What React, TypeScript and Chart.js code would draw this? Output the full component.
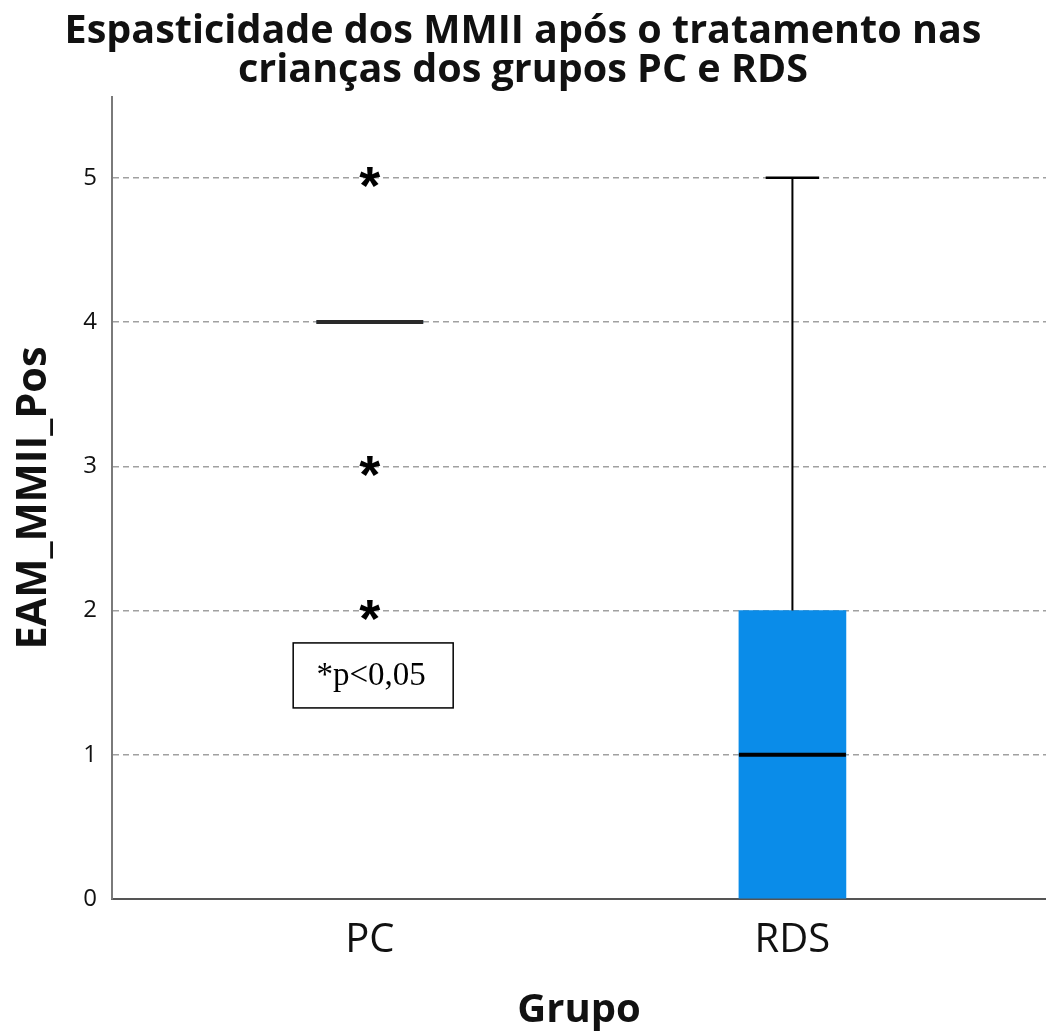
import { useEffect, useRef } from 'react';
import { Chart, registerables } from 'chart.js';

Chart.register(...registerables);

// Box-plot summary per group
const groups = ['PC', 'RDS'];
const lowerWhisker = [4, 0];
const q1 = [4, 0];
const medians = [4, 1];
const q3 = [4, 2];
const upperWhisker = [4, 5];
const outliers: number[][] = [[5, 3, 2], []];

const yTicks = [0, 1, 2, 3, 4, 5];
const yMax = 5.56;

const titleLines = ['Espasticidade dos MMII após o tratamento nas', 'crianças dos grupos PC e RDS'];
const yTitle = 'EAM_MMII_Pos';
const xTitle = 'Grupo';
const noteText = '*p<0,05';

const BOX_W = 107;
const BOX_COLOR = '#0a8ce9';
const MEDIAN_COLORS = ['#2a2a2a', '#000000'];
const TEXT = '#111111';

const boxExtras = {
  id: 'boxExtras',
  afterDatasetsDraw(chart: any) {
    const { ctx, scales } = chart;
    const x = scales.x;
    const y = scales.y;
    ctx.save();
    groups.forEach((_, i) => {
      const cx = x.getPixelForValue(i);
      const half = BOX_W / 2;
      ctx.strokeStyle = '#000';
      ctx.lineCap = 'butt';
      // whiskers with caps
      ctx.lineWidth = 2;
      if (upperWhisker[i] > q3[i]) {
        const yt = y.getPixelForValue(upperWhisker[i]);
        ctx.beginPath();
        ctx.moveTo(cx, y.getPixelForValue(q3[i]));
        ctx.lineTo(cx, yt);
        ctx.stroke();
        ctx.lineWidth = 2.5;
        ctx.beginPath();
        ctx.moveTo(cx - half / 2, yt);
        ctx.lineTo(cx + half / 2, yt);
        ctx.stroke();
      }
      ctx.lineWidth = 2;
      if (lowerWhisker[i] < q1[i]) {
        const yb = y.getPixelForValue(lowerWhisker[i]);
        ctx.beginPath();
        ctx.moveTo(cx, y.getPixelForValue(q1[i]));
        ctx.lineTo(cx, yb);
        ctx.stroke();
        ctx.beginPath();
        ctx.moveTo(cx - half / 2, yb);
        ctx.lineTo(cx + half / 2, yb);
        ctx.stroke();
      }
      // median
      ctx.strokeStyle = MEDIAN_COLORS[i];
      ctx.lineWidth = 4;
      const ym = y.getPixelForValue(medians[i]);
      ctx.beginPath();
      ctx.moveTo(cx - half, ym);
      ctx.lineTo(cx + half, ym);
      ctx.stroke();
      // extreme values drawn as asterisks, ink centred on the value
      ctx.fillStyle = '#000';
      ctx.font = 'bold 54px "Liberation Sans", Arial, sans-serif';
      ctx.textAlign = 'left';
      ctx.textBaseline = 'alphabetic';
      const m = ctx.measureText('*');
      outliers[i].forEach((v) => {
        const py = y.getPixelForValue(v);
        const bx = cx - (m.actualBoundingBoxRight - m.actualBoundingBoxLeft) / 2;
        const by = py + (m.actualBoundingBoxAscent - m.actualBoundingBoxDescent) / 2;
        ctx.fillText('*', bx, by);
      });
    });

    // significance note
    const nx = x.getPixelForValue(0.008);
    const ny = y.getPixelForValue(1.55);
    const w = 160;
    const h = 65;
    ctx.strokeStyle = '#000';
    ctx.lineWidth = 1.5;
    ctx.strokeRect(nx - w / 2, ny - h / 2, w, h);
    ctx.fillStyle = '#000';
    ctx.font = '33px "Liberation Serif", "Times New Roman", serif';
    ctx.textAlign = 'center';
    ctx.textBaseline = 'alphabetic';
    ctx.fillText(noteText, nx - 2, ny + 10);
    ctx.restore();
  },
};

export default function App() {
  const ref = useRef<HTMLCanvasElement | null>(null);

  useEffect(() => {
    if (!ref.current) return;
    const chart = new Chart(ref.current, {
      type: 'bar',
      data: {
        datasets: [
          {
            data: groups.map((_, i) => ({ x: i, y: [q1[i], q3[i]] })) as any,
            backgroundColor: BOX_COLOR,
            borderWidth: 0,
            barThickness: BOX_W,
          },
        ],
      },
      options: {
        animation: false,
        responsive: false,
        devicePixelRatio: 1,
        layout: { padding: 0 },
        plugins: {
          legend: { display: false },
          tooltip: { enabled: false },
          title: {
            display: true,
            text: titleLines,
            color: TEXT,
            font: { family: 'Open Sans', weight: 'bold', size: 39.5, lineHeight: 1.0 },
            padding: { top: 11.75, bottom: 6.25 },
          },
        },
        scales: {
          x: {
            type: 'linear',
            min: -0.61,
            max: 1.6,
            offset: false,
            afterBuildTicks: (s: any) => {
              s.ticks = groups.map((_, i) => ({ value: i }));
            },
            afterFit: (s: any) => {
              s.height = 133;
            },
            ticks: {
              autoSkip: false,
              maxRotation: 0,
              padding: 10,
              color: TEXT,
              font: { family: 'Open Sans', size: 40, lineHeight: 1.2 },
              callback: (v: any) => groups[v] ?? '',
            },
            grid: { display: false },
            border: { color: '#555', width: 2 },
            title: {
              display: true,
              text: xTitle,
              color: TEXT,
              font: { family: 'Open Sans', weight: 'bold', size: 40, lineHeight: 1 },
              padding: { top: 0, bottom: 1 },
            },
          },
          y: {
            min: 0,
            max: yMax,
            afterBuildTicks: (s: any) => {
              s.ticks = yTicks.map((v) => ({ value: v }));
            },
            afterFit: (s: any) => {
              s.width = 112;
            },
            ticks: {
              padding: 15,
              color: TEXT,
              font: { family: 'Open Sans', size: 24 },
            },
            grid: { color: '#a0a0a0', lineWidth: 1.5, drawTicks: false },
            border: { color: '#7a7a7a', width: 2, dash: [6, 4] },
            title: {
              display: true,
              text: yTitle,
              color: TEXT,
              font: { family: 'Open Sans', weight: 'bold', size: 41.5, lineHeight: 1 },
              padding: { top: 13, bottom: 0 },
            },
          },
        },
      },
      plugins: [boxExtras],
    });
    return () => chart.destroy();
  }, []);

  return (
    <canvas
      ref={ref}
      width={1046}
      height={1032}
      style={{ position: 'fixed', left: 0, top: 0, display: 'block', background: '#fff' }}
    />
  );
}
